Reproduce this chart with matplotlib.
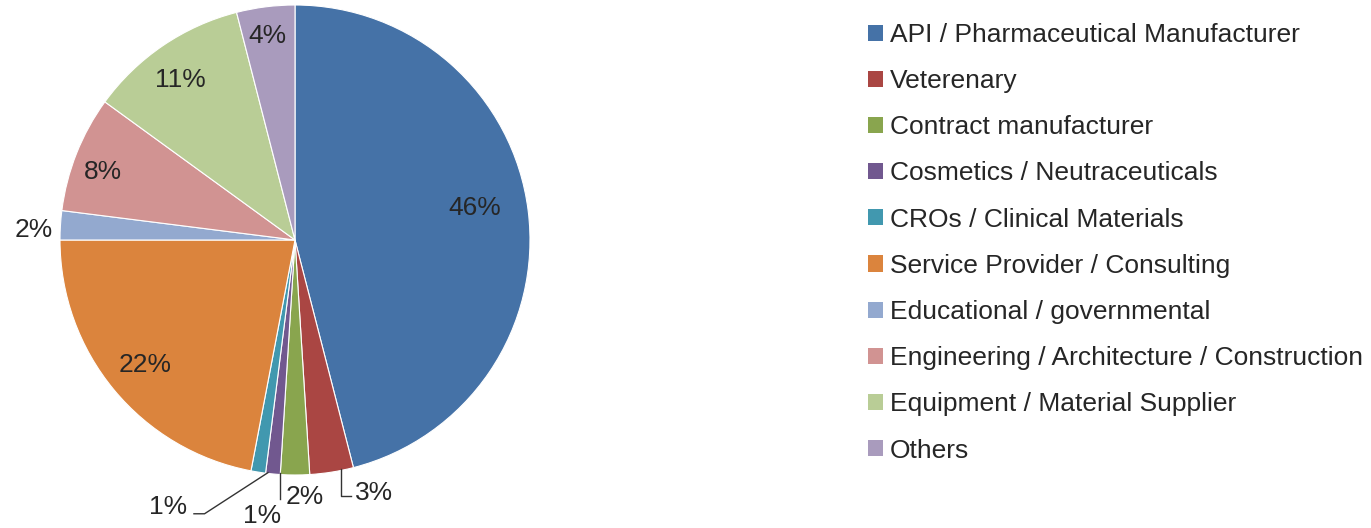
import matplotlib.pyplot as plt
from matplotlib.patches import Patch

plt.rcParams['font.family'] = ['Liberation Sans', 'DejaVu Sans']

categories = ['API / Pharmaceutical Manufacturer', 'Veterenary', 'Contract manufacturer',
              'Cosmetics / Neutraceuticals', 'CROs / Clinical Materials',
              'Service Provider / Consulting', 'Educational / governmental',
              'Engineering / Architecture / Construction', 'Equipment / Material Supplier', 'Others']
shares = [46, 3, 2, 1, 1, 22, 2, 8, 11, 4]
colors = ['#4572A7', '#AA4643', '#89A54E', '#71588F', '#4198AF',
          '#DB843D', '#93A9CF', '#D19392', '#B9CD96', '#A99BBD']
# label anchor (data coords, pie radius 1) and optional leader line points
label_pos = [(0.766, 0.136), (0.335, -1.077), (0.043, -1.094), (-0.14, -1.175), (-0.54, -1.136),
             (-0.638, -0.532), (-1.11, 0.043), (-0.817, 0.289), (-0.489, 0.681), (-0.119, 0.868)]
leaders = {1: [(0.195, -0.975), (0.195, -1.09), (0.24, -1.09)],
           3: [(-0.064, -0.99), (-0.064, -1.10)],
           4: [(-0.115, -0.99), (-0.385, -1.165), (-0.43, -1.165)]}

W, H = 1371, 528
fig = plt.figure(figsize=(W / 100, H / 100), dpi=100)
cx, cy, r = 295, 240, 235
ax = fig.add_axes([(cx - r) / W, (H - cy - r) / H, 2 * r / W, 2 * r / H])

ax.pie(shares, colors=colors, startangle=90, counterclock=False, radius=1,
       wedgeprops=dict(edgecolor='white', linewidth=0.8))
ax.set_xlim(-1, 1)
ax.set_ylim(-1, 1)
ax.set_aspect('equal')
ax.axis('off')

for i, v in enumerate(shares):
    x, y = label_pos[i]
    ax.text(x, y, f'{v}%', ha='center', va='center', fontsize=19, color='#262626', clip_on=False)
for i, pts in leaders.items():
    xs = [p[0] for p in pts]
    ys = [p[1] for p in pts]
    ax.plot(xs, ys, color='#333333', lw=1, clip_on=False)

handles = [Patch(facecolor=c, edgecolor='none') for c in colors]
fig.legend(handles, categories, loc='upper left', bbox_to_anchor=(868 / W, 1 - 23 / H),
           frameon=False, fontsize=19, labelcolor='#262626', handlelength=0.57, handleheight=0.57,
           handletextpad=0.25, labelspacing=0.84, borderpad=0, borderaxespad=0)

fig.savefig('out.png', dpi=100)
